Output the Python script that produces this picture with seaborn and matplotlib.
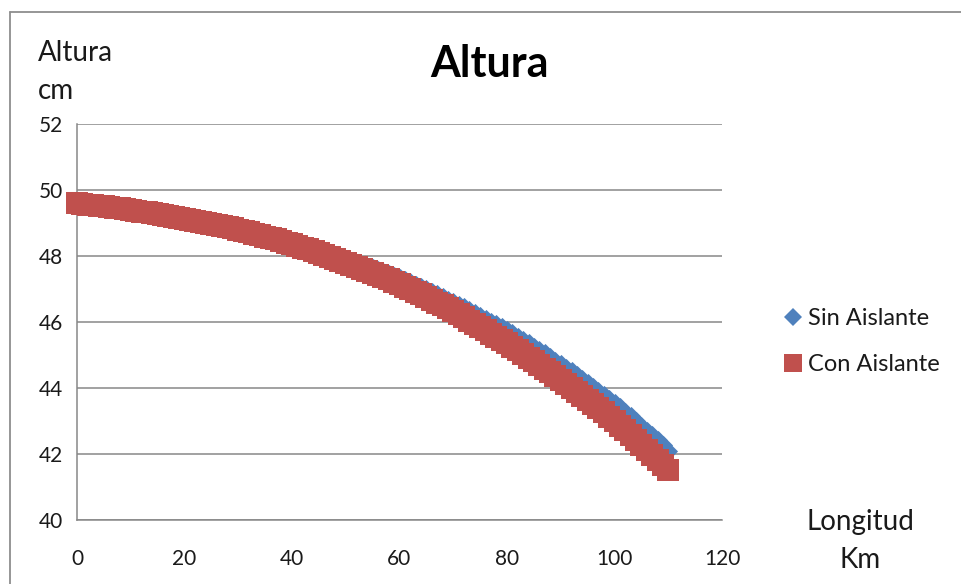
import matplotlib
matplotlib.use("Agg")
import matplotlib.pyplot as plt
from matplotlib.lines import Line2D
import pandas as pd
import seaborn as sns

# Longitud del tramo (km) y altura medida (cm) para cada caso
longitud_km = list(range(0, 111))

con_aislante = [
    49.60, 49.58, 49.56, 49.54, 49.52, 49.50, 49.48, 49.46, 49.44, 49.41,
    49.39, 49.37, 49.34, 49.32, 49.29, 49.27, 49.24, 49.21, 49.19, 49.16,
    49.13, 49.10, 49.07, 49.04, 49.01, 48.98, 48.94, 48.91, 48.87, 48.84,
    48.80, 48.76, 48.72, 48.68, 48.64, 48.59, 48.55, 48.50, 48.45, 48.40,
    48.35, 48.30, 48.25, 48.20, 48.14, 48.09, 48.03, 47.98, 47.92, 47.86,
    47.80, 47.74, 47.68, 47.62, 47.55, 47.49, 47.42, 47.36, 47.29, 47.22,
    47.15, 47.07, 47.00, 46.92, 46.84, 46.76, 46.68, 46.59, 46.50, 46.41,
    46.32, 46.23, 46.14, 46.04, 45.95, 45.85, 45.75, 45.65, 45.55, 45.45,
    45.35, 45.25, 45.14, 45.03, 44.92, 44.81, 44.70, 44.59, 44.48, 44.36,
    44.25, 44.13, 44.01, 43.89, 43.77, 43.64, 43.52, 43.39, 43.26, 43.13,
    43.00, 42.86, 42.72, 42.57, 42.43, 42.28, 42.13, 41.98, 41.82, 41.66,
    41.50,
]

sin_aislante = [
    49.60, 49.58, 49.56, 49.54, 49.52, 49.50, 49.48, 49.46, 49.44, 49.41,
    49.39, 49.37, 49.34, 49.32, 49.29, 49.27, 49.24, 49.21, 49.19, 49.16,
    49.13, 49.10, 49.07, 49.04, 49.01, 48.98, 48.94, 48.91, 48.87, 48.84,
    48.80, 48.77, 48.73, 48.70, 48.66, 48.62, 48.58, 48.54, 48.49, 48.45,
    48.40, 48.36, 48.31, 48.27, 48.21, 48.17, 48.11, 48.07, 48.01, 47.96,
    47.90, 47.85, 47.80, 47.74, 47.68, 47.63, 47.57, 47.52, 47.45, 47.39,
    47.33, 47.26, 47.20, 47.13, 47.06, 46.99, 46.92, 46.84, 46.76, 46.68,
    46.60, 46.52, 46.44, 46.36, 46.28, 46.19, 46.10, 46.01, 45.93, 45.84,
    45.75, 45.66, 45.56, 45.45, 45.35, 45.25, 45.15, 45.05, 44.94, 44.83,
    44.73, 44.62, 44.50, 44.39, 44.28, 44.16, 44.04, 43.92, 43.80, 43.67,
    43.55, 43.42, 43.28, 43.14, 43.00, 42.86, 42.71, 42.57, 42.41, 42.26,
    42.10,
]

series_labels = ["Sin Aislante", "Con Aislante"]
x_ticks = [0, 20, 40, 60, 80, 100, 120]
y_ticks = [40, 42, 44, 46, 48, 50, 52]

BLUE = "#4F81BD"
RED = "#C0504D"
GRID = "#878787"
TEXT = "#1a1a1a"

sns.set_style("white")
plt.rcParams["font.family"] = ["Lato", "DejaVu Sans"]

W, H = 961, 584
fig = plt.figure(figsize=(W / 100, H / 100), dpi=100)
fig.patch.set_facecolor("white")

ax_left, ax_right, ax_top, ax_bottom = 77, 722, 124, 520
ax = fig.add_axes([ax_left / W, 1 - ax_bottom / H,
                   (ax_right - ax_left) / W, (ax_bottom - ax_top) / H])

df_sin = pd.DataFrame({"Longitud": longitud_km, "Altura": sin_aislante})
df_con = pd.DataFrame({"Longitud": longitud_km, "Altura": con_aislante})

sns.scatterplot(data=df_sin, x="Longitud", y="Altura", marker="D", s=95,
                color=BLUE, linewidth=0, label=series_labels[0], ax=ax,
                zorder=5, clip_on=False, legend=False)
sns.scatterplot(data=df_con, x="Longitud", y="Altura", marker="s", s=230,
                color=RED, linewidth=0, label=series_labels[1], ax=ax,
                zorder=6, clip_on=False, legend=False)

ax.set_xlim(x_ticks[0], x_ticks[-1])
ax.set_ylim(y_ticks[0], y_ticks[-1])
ax.set_xticks(x_ticks)
ax.set_yticks(y_ticks)
ax.set_xlabel("")
ax.set_ylabel("")

ax.grid(axis="y", color=GRID, linewidth=1.1)
ax.grid(axis="x", visible=False)
ax.set_axisbelow(True)
for side in ["top", "right"]:
    ax.spines[side].set_visible(False)
for side in ["left", "bottom"]:
    ax.spines[side].set_color(GRID)
    ax.spines[side].set_linewidth(1.1)

ax.tick_params(axis="both", direction="out", length=6, width=1.1,
               color=GRID, labelsize=15, labelcolor=TEXT)
ax.tick_params(axis="y", pad=4)
ax.tick_params(axis="x", pad=15)

# Títulos y rótulos de ejes
fig.text(489 / W, 1 - 64 / H, "Altura", ha="center", va="center",
         fontsize=31, fontweight="bold", color="black")
fig.text(38 / W, 1 - 40 / H, "Altura\ncm", ha="left", va="top",
         fontsize=20, linespacing=1.55, color=TEXT)
fig.text(860 / W, 1 - 541 / H, "Longitud\nKm", ha="center", va="center",
         fontsize=20, linespacing=1.55, multialignment="center", color=TEXT)

# Leyenda
handles = [
    Line2D([], [], marker="D", linestyle="none", markersize=8.8,
           markerfacecolor=BLUE, markeredgewidth=0),
    Line2D([], [], marker="s", linestyle="none", markersize=13,
           markerfacecolor=RED, markeredgewidth=0),
]
fig.legend(handles, series_labels, loc="center left",
           bbox_to_anchor=(783 / W, 1 - 341.5 / H), frameon=False,
           fontsize=17, handlelength=0.85, handletextpad=0.2,
           labelspacing=1.05, borderpad=0, borderaxespad=0,
           labelcolor=TEXT)

# Marco del gráfico
frame_color = "#8e8e8e"
fig.add_artist(Line2D([10 / W, 10 / W], [0, 1 - 12 / H],
                      transform=fig.transFigure, color=frame_color, lw=1.3))
fig.add_artist(Line2D([10 / W, 1], [1 - 12 / H, 1 - 12 / H],
                      transform=fig.transFigure, color=frame_color, lw=1.3))

fig.savefig("out.png", dpi=100)
